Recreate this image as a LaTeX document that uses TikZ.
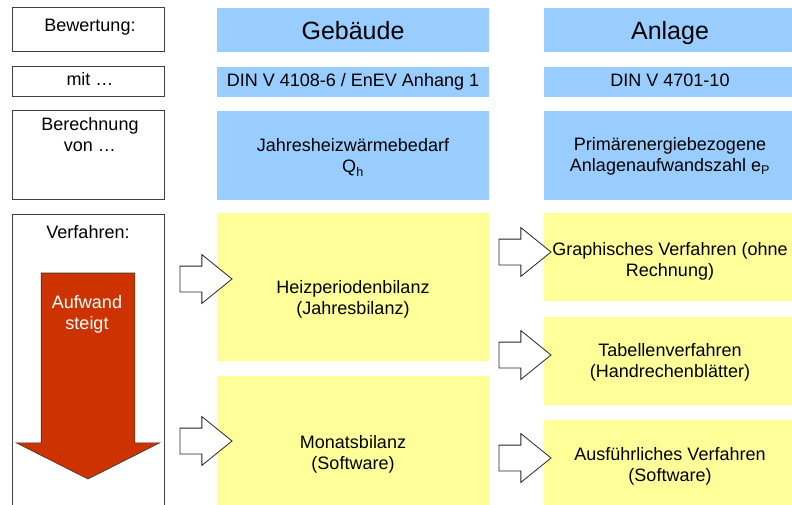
\documentclass[tikz,border=0pt]{standalone}
\usepackage{fontspec}
\setmainfont{Liberation Sans}
\usetikzlibrary{shapes.arrows}
\definecolor{blueA}{RGB}{153,204,255}
\definecolor{yellowA}{RGB}{255,255,153}
\definecolor{redA}{RGB}{204,51,0}
\newcommand{\txtsize}{\fontsize{18}{21.6}\selectfont}
\newcommand{\bigsize}{\fontsize{25}{30}\selectfont}
\begin{document}
\begin{tikzpicture}[x=1pt,y=-1pt,
  lbox/.style={draw=black!75, line width=1pt, fill=white, minimum width=152pt, inner sep=0pt},
  bbox/.style={fill=blueA, inner sep=0pt},
  ybox/.style={fill=yellowA, inner sep=0pt},
  txt/.style={inner sep=0pt, align=center, font=\txtsize},
  hollow/.style={single arrow, draw=black!85, fill=white, line width=0.8pt, minimum height=52pt, single arrow head extend=11.5pt, single arrow tip angle=78, inner xsep=0pt, inner ysep=12.5pt, outer sep=0pt, anchor=tail}]
\clip (0,0) rectangle (792,505);
\node[lbox, minimum height=44pt] (bew) at (88,30){};
\node[lbox, minimum height=30pt] (mit) at (88,82){};
\node[lbox, minimum height=89pt] (ber) at (88,155.5){};
\node[lbox, minimum height=316pt] (verf) at (88,372){};
\node[bbox, minimum width=272pt, minimum height=44pt] (geb) at (353,30){};
\node[bbox, minimum width=272pt, minimum height=30pt] (dingeb) at (353,82){};
\node[bbox, minimum width=272pt, minimum height=89pt] (qh) at (353,155.5){};
\node[bbox, minimum width=252pt, minimum height=44pt] (anl) at (670,30){};
\node[bbox, minimum width=252pt, minimum height=30pt] (dinanl) at (670,82){};
\node[bbox, minimum width=252pt, minimum height=89pt] (ep) at (670,155.5){};
\node[ybox, minimum width=272pt, minimum height=148pt] (heiz) at (353,287){};
\node[ybox, minimum width=272pt, minimum height=148pt] (monat) at (353,450){};
\node[ybox, minimum width=252pt, minimum height=88pt] (graph) at (670,257){};
\node[ybox, minimum width=252pt, minimum height=88pt] (tab) at (670,361){};
\node[ybox, minimum width=252pt, minimum height=88pt] (ausf) at (670,464){};
\node[single arrow, fill=redA, draw=black!80, line width=0.6pt, minimum height=206pt, single arrow head extend=25pt, single arrow tip angle=126.5, inner xsep=0pt, inner ysep=46.5pt, outer sep=0pt, rotate=-90, anchor=tail] (aufw) at (88,273){};
\node[hollow] (pfeil1) at (180,279){};
\node[hollow] (pfeil2) at (180,441){};
\node[hollow] (pfeil3) at (499,252){};
\node[hollow] (pfeil4) at (499,355){};
\node[hollow] (pfeil5) at (499,458){};
\node[txt, anchor=base] (bewtxt) at (90,32){Bewertung:};
\node[txt, anchor=base] (mittxt) at (90,86){mit …};
\node[txt, anchor=north] (bertxt) at (90,117){Berechnung\\von …};
\node[txt, anchor=north] (verftxt) at (88,225){Verfahren:};
\node[txt, anchor=north, text=white] (aufwtxt) at (87,295){Aufwand\\steigt};
\node[txt, anchor=base, font=\bigsize] (gebtxt) at (353,40){Gebäude};
\node[txt, anchor=base, font=\bigsize] (anltxt) at (670,40){Anlage};
\node[txt, anchor=base] (dingebtxt) at (353,87){DIN V 4108-6 / EnEV Anhang 1};
\node[txt, anchor=base] (dinanltxt) at (670,87){DIN V 4701-10};
\node[txt, anchor=north] (qhtxt) at (353,138){Jahresheizwärmebedarf\\Q\textsubscript{h}};
\node[txt, anchor=north] (eptxt) at (670,137){Primärenergiebezogene\\Anlagenaufwandszahl e\textsubscript{P}};
\node[txt, anchor=north] (heiztxt) at (353,280){Heizperiodenbilanz\\(Jahresbilanz)};
\node[txt, anchor=north] (monattxt) at (353,435){Monatsbilanz\\(Software)};
\node[txt, anchor=north] (graphtxt) at (670,242){Graphisches Verfahren (ohne\\Rechnung)};
\node[txt, anchor=north] (tabtxt) at (670,343){Tabellenverfahren\\(Handrechenblätter)};
\node[txt, anchor=north] (ausftxt) at (670,447){Ausführliches Verfahren\\(Software)};
\end{tikzpicture}
\end{document}
